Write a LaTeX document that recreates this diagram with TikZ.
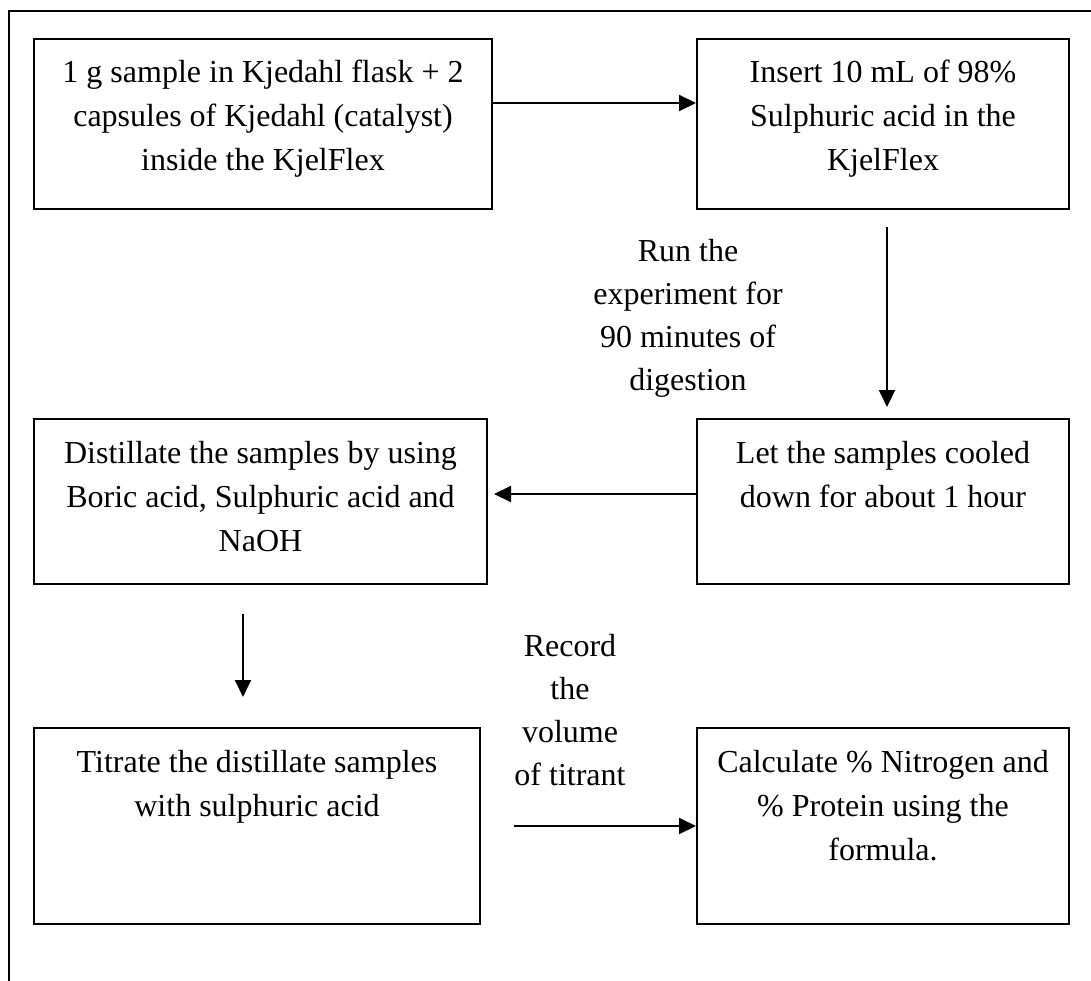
\documentclass[tikz,border=0pt]{standalone}
\usepackage{fontspec}
\setmainfont{Liberation Serif}
\usetikzlibrary{arrows.meta}
\begin{document}
\begin{tikzpicture}[x=1pt,y=-1pt,
  box/.style={draw, line width=2pt, inner sep=0pt, anchor=north west},
  txt/.style={align=center, inner sep=0pt, anchor=north, font=\fontsize{32}{44}\selectfont},
  lbl/.style={txt, font=\fontsize{32}{43}\selectfont},
  arr/.style={line width=2pt, -{Triangle[length=17pt,width=16pt]}}]
\useasboundingbox (0,0) rectangle (1091,981);
\draw[line width=2pt] (1091,11) -- (9,11) -- (9,981);
% boxes
\node[box, minimum width=458pt, minimum height=170pt] (b1) at (33,38) {};
\node[box, minimum width=372pt, minimum height=170pt] (b2) at (696,38) {};
\node[box, minimum width=372pt, minimum height=165pt] (b3) at (696,418) {};
\node[box, minimum width=453pt, minimum height=165pt] (b4) at (33,418) {};
\node[box, minimum width=446pt, minimum height=196pt] (b5) at (33,727) {};
\node[box, minimum width=372pt, minimum height=196pt] (b6) at (696,727) {};
% texts
\node[txt] (t1) at ([yshift=-14pt]b1.north) {\strut 1 g sample in Kjedahl flask + 2\\capsules of Kjedahl (catalyst)\\inside the KjelFlex};
\node[txt] (t2) at ([yshift=-14pt]b2.north) {\strut Insert 10 mL of 98\%\\Sulphuric acid in the\\KjelFlex};
\node[txt] (t3) at ([yshift=-14pt]b3.north) {\strut Let the samples cooled\\down for about 1 hour};
\node[txt] (t4) at ([yshift=-14pt]b4.north) {\strut Distillate the samples by using\\Boric acid, Sulphuric acid and\\NaOH};
\node[txt] (t5) at ([yshift=-14pt]b5.north) {\strut Titrate the distillate samples\\with sulphuric acid};
\node[txt] (t6) at ([yshift=-14pt]b6.north) {\strut Calculate \% Nitrogen and\\\% Protein using the\\formula.};
% labels
\node[lbl] (l1) at (688,231) {\strut Run the\\experiment for\\90 minutes of\\digestion};
\node[lbl] (l2) at (570,626) {\strut Record\\the\\volume\\of titrant};
% arrows
\draw[arr] ([yshift=21pt]b1.east) -- ([yshift=21pt]b2.west);
\draw[arr] ([xshift=4pt,yshift=-17pt]b2.south) -- ([xshift=4pt,yshift=11pt]b3.north);
\draw[arr] ([yshift=7.5pt]b3.west) -- ([xshift=6pt,yshift=7.5pt]b4.east);
\draw[arr] ([xshift=-17.5pt,yshift=-29pt]b4.south) -- ([xshift=-14pt,yshift=30pt]b5.north);
\draw[arr] ([xshift=33pt]b5.east) -- (b6.west);
\end{tikzpicture}
\end{document}
